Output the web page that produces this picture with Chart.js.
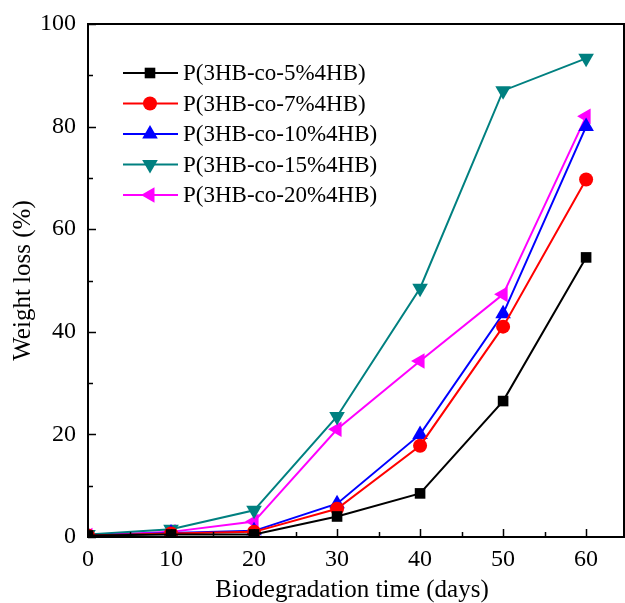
<!DOCTYPE html>
<html>
<head>
<meta charset="utf-8">
<script src="https://cdn.jsdelivr.net/npm/chart.js@4.4.1/dist/chart.umd.min.js"></script>
<style>
  html, body { margin: 0; padding: 0; background: #fff; overflow: hidden; }
  #wrap { width: 625px; height: 603px; position: relative; }
  canvas { display: block; }
</style>
</head>
<body>
<div id="wrap"><canvas id="chart"></canvas></div>
<script>
// data
const days = [0, 10, 20, 30, 40, 50, 60];
const hb5 = [0.3, 0.5, 0.5, 4.0, 8.5, 26.5, 54.5];
const hb7 = [0.3, 0.7, 1.0, 5.5, 17.8, 41.0, 69.7];
const hb10 = [0.3, 0.8, 1.2, 6.5, 20.0, 43.5, 80.0];
const hb15 = [0.5, 1.5, 5.2, 23.5, 48.5, 87.0, 93.3];
const hb20 = [0.3, 1.0, 3.0, 21.0, 34.3, 47.3, 82.0];
const seriesLabels = ["P(3HB-co-5%4HB)", "P(3HB-co-7%4HB)", "P(3HB-co-10%4HB)", "P(3HB-co-15%4HB)", "P(3HB-co-20%4HB)"];
const xTicks = [0, 10, 20, 30, 40, 50, 60];
const yTicks = [0, 20, 40, 60, 80, 100];

const FONT = "'Liberation Serif', 'Times New Roman', serif";

function series(values, label, color, style, rot, radius) {
  return {
    label: label,
    data: days.map((d, i) => ({ x: d, y: values[i] })),
    borderColor: color,
    backgroundColor: color,
    borderWidth: 2,
    pointStyle: style,
    pointRotation: rot,
    pointRadius: radius,
    pointBorderWidth: 0,
    pointBackgroundColor: color,
    tension: 0
  };
}

// inward ticks, frame and inset legend
const framePlugin = {
  id: "frame",
  afterDraw(chart) {
    const ctx = chart.ctx;
    const a = chart.chartArea;
    const xs = chart.scales.x, ys = chart.scales.y;
    const right = chart.width - 1;
    ctx.save();
    ctx.strokeStyle = "#000";
    ctx.lineWidth = 2;
    ctx.strokeRect(a.left, a.top, right - a.left, a.bottom - a.top);
    ctx.lineWidth = 1.5;
    ctx.beginPath();
    for (let v = 0; v <= 60; v += 5) {
      const px = Math.round(xs.getPixelForValue(v)) + 0.5;
      const len = v % 10 === 0 ? 8 : 5;
      ctx.moveTo(px, a.bottom);
      ctx.lineTo(px, a.bottom - len);
    }
    for (let v = 0; v <= 100; v += 10) {
      const py = Math.round(ys.getPixelForValue(v)) + 0.5;
      const len = v % 20 === 0 ? 8 : 5;
      ctx.moveTo(a.left, py);
      ctx.lineTo(a.left + len, py);
    }
    ctx.stroke();

    // legend
    ctx.font = "23px " + FONT;
    ctx.textBaseline = "middle";
    chart.data.datasets.forEach((ds, i) => {
      const y = 73 + i * 30.5;
      ctx.strokeStyle = ds.borderColor;
      ctx.fillStyle = ds.backgroundColor;
      ctx.lineWidth = 2;
      ctx.beginPath();
      ctx.moveTo(123, y);
      ctx.lineTo(178, y);
      ctx.stroke();
      Chart.helpers.drawPoint(ctx, {
        pointStyle: ds.pointStyle,
        rotation: ds.pointRotation,
        radius: ds.pointRadius,
        borderWidth: 0
      }, 150, y);
      ctx.fillStyle = "#000";
      ctx.fillText(ds.label, 183, y + 1);
    });
    ctx.restore();
  }
};

new Chart(document.getElementById("chart"), {
  type: "line",
  data: {
    datasets: [
      series(hb5, seriesLabels[0], "#000000", "rect", 0, 7.5),
      series(hb7, seriesLabels[1], "#ff0000", "circle", 0, 7),
      series(hb10, seriesLabels[2], "#0000ff", "triangle", 0, 9),
      series(hb15, seriesLabels[3], "#008080", "triangle", 180, 9),
      series(hb20, seriesLabels[4], "#ff00ff", "triangle", -90, 9)
    ]
  },
  options: {
    responsive: true,
    maintainAspectRatio: false,
    animation: false,
    layout: { padding: { top: 24, right: 0, left: 0, bottom: 0 } },
    plugins: { legend: { display: false }, tooltip: { enabled: false } },
    scales: {
      x: {
        type: "linear",
        min: 0,
        max: 63.6,
        afterBuildTicks: s => { s.ticks = xTicks.map(v => ({ value: v })); },
        afterFit: s => { s.height = 66; s.paddingLeft = 0; s.paddingRight = 0; },
        grid: { display: false, drawTicks: false },
        border: { display: false },
        ticks: { color: "#000", font: { family: FONT, size: 24 }, padding: 8, maxRotation: 0 },
        title: { display: true, text: "Biodegradation time (days)", color: "#000", font: { family: FONT, size: 25, lineHeight: 1.0 }, padding: { top: 0, bottom: 0 } }
      },
      y: {
        min: 0,
        max: 100,
        afterBuildTicks: s => { s.ticks = yTicks.map(v => ({ value: v })); },
        afterFit: s => { s.width = 88; s.paddingTop = 0; s.paddingBottom = 0; },
        grid: { display: false, drawTicks: false },
        border: { display: false },
        ticks: { color: "#000", font: { family: FONT, size: 24 }, padding: 12 },
        title: { display: true, text: "Weight loss (%)", color: "#000", font: { family: FONT, size: 25, lineHeight: 1.85 }, padding: { top: 0, bottom: 0 } }
      }
    }
  },
  plugins: [framePlugin]
});
</script>
</body>
</html>
